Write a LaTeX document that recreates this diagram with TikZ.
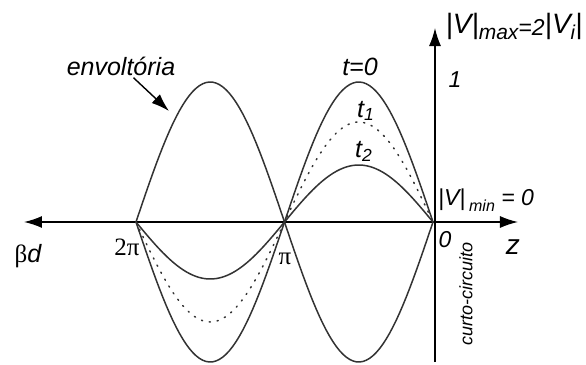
\documentclass[tikz,border=0pt]{standalone}
\usepackage{fontspec}
\setmainfont{Liberation Sans}
\newfontfamily\grk{Liberation Serif}
\usetikzlibrary{arrows.meta}

\begin{document}
\begin{tikzpicture}[x=0.5pt,y=-0.5pt,
  curve/.style={line width=0.75pt,black!80},
  lbl/.style={inner sep=1pt,font=\itshape\fontsize{11.5}{13}\selectfont},
  big/.style={inner sep=1pt,font=\itshape\fontsize{12.5}{14}\selectfont},
  tip/.style={-{Latex[length=9pt,width=6pt]}}]
\useasboundingbox (0,0) rectangle (586,365);

% axes
\draw[line width=0.7pt,tip] (435,362) -- (435,28);
\draw[line width=0.7pt,{Latex[length=9pt,width=6pt]}-{Latex[length=9pt,width=6pt]}] (24,222) -- (518,222);

% envelope (t=0 and its mirror)
\draw[curve,domain=136:433,samples=90] plot (\x,{222-140*sin(1.21212*(433-\x))});
\draw[curve,domain=136:433,samples=90] plot (\x,{222+140*sin(1.21212*(433-\x))});

% t1 and t2
\draw[curve,dash pattern=on 0.6pt off 3.4pt,line cap=round,domain=136:433,samples=90] plot (\x,{222-100*sin(1.21212*(433-\x))});
\draw[curve,domain=136:433,samples=90] plot (\x,{222-57*sin(1.21212*(433-\x))});

% labels
\node[big] (envlbl) at (121,66) {envoltória};
\coordinate (envtip) at (169,111);
\draw[line width=0.7pt,tip] (envlbl) -- (envtip);

\node[big] (t0) at (360,67) {t=0};
\node[big] (t1) at (366,111) {t\textsubscript{1}};
\node[big] (t2) at (364,151) {t\textsubscript{2}};
\node[lbl] (one) at (455,80) {1};
\node[inner sep=1pt,font=\itshape\fontsize{14}{16}\selectfont] (vmax) at (514,26)
  {|V|\raisebox{-3pt}{\fontsize{10.5}{12}\selectfont max}\raisebox{-1pt}{\fontsize{11.5}{12}\selectfont =2}|V\raisebox{-3pt}{\fontsize{10}{12}\selectfont i}|};
\node[inner sep=1pt,font=\itshape\fontsize{11.5}{13}\selectfont] (vmin) at (486,200)
  {|V|\,\raisebox{-3pt}{\fontsize{8}{10}\selectfont min} = 0};
\node[lbl] (zero) at (445,240) {0};
\node[inner sep=1pt,font=\itshape\fontsize{14}{16}\selectfont] (zlbl) at (513,247) {z};
\node[inner sep=1pt,font=\grk\fontsize{12.5}{14}\selectfont] (twopi) at (127,247) {2π};
\node[inner sep=1pt,font=\grk\fontsize{12.5}{14}\selectfont] (pi) at (285,259) {π};
\node[inner sep=1pt,font=\fontsize{12.5}{14}\selectfont] (bd) at (28,256) {{\grk β}\itshape d};
\node[rotate=90,inner sep=1pt,font=\itshape\fontsize{9}{10}\selectfont] (cc) at (466,294) {curto-circuito};
\end{tikzpicture}
\end{document}
